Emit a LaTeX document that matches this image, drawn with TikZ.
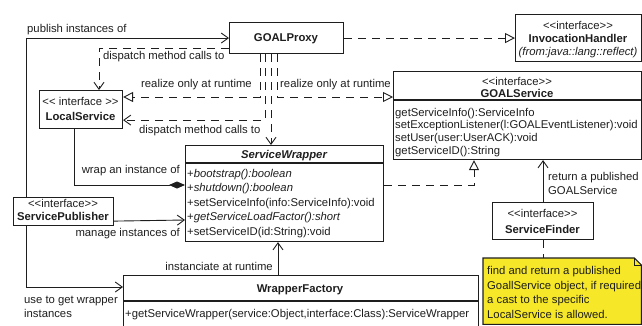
\documentclass[tikz,border=0pt]{standalone}
\usepackage{fontspec}
\setmainfont{Liberation Sans}[Ligatures=TeXOff]
\usetikzlibrary{arrows.meta,calc}
\definecolor{noteyellow}{RGB}{246,232,40}
\definecolor{ink}{RGB}{30,30,30}
\begin{document}
\begin{tikzpicture}[x=1pt,y=-1pt,
  box/.style={draw=ink, line width=1.1pt, inner sep=0pt, anchor=north west},
  txt/.style={inner sep=0pt, text=ink, font=\fontsize{11.3}{13}\selectfont},
  btxt/.style={txt, font=\fontsize{11.3}{13}\selectfont\bfseries},
  conn/.style={draw=ink, line width=0.9pt},
  dsh/.style={conn, dash pattern=on 8pt off 6pt},
  openarr/.style={-{Straight Barb[length=7pt,width=10pt,line width=0.9pt]}},
  realize/.style={-{Triangle[open,length=10pt,width=10pt,line width=0.9pt]}},
  compo/.style={-{Diamond[length=16pt,width=7pt]}},
]
\useasboundingbox (0,0) rectangle (642,325);
\clip (0,0) rectangle (642,325);

% ---------- boxes ----------
\node[box, minimum width=114pt, minimum height=31pt] (gp) at (229,22) {};
\node[box, minimum width=126pt, minimum height=47pt] (ih) at (515,14) {};
\node[box, minimum width=83pt, minimum height=38pt] (ls) at (39,90) {};
\node[box, minimum width=248pt, minimum height=88pt] (gs) at (393,71) {};
\node[box, minimum width=198pt, minimum height=96pt] (sw) at (185,145) {};
\node[box, minimum width=100pt, minimum height=28pt] (sp) at (13,197) {};
\node[box, minimum width=101pt, minimum height=37pt] (sf) at (492,202) {};
\node[box, minimum width=355pt, minimum height=60pt] (wf) at (123,275) {};
\node[inner sep=0pt, minimum width=158pt, minimum height=66pt, anchor=north west] (note) at (483,258) {};

% dividers
\draw[draw=ink, line width=1.1pt] ($(gs.north west)+(0,29)$) -- ($(gs.north east)+(0,29)$);
\draw[draw=ink, line width=1.1pt] ($(sw.north west)+(0,18)$) -- ($(sw.north east)+(0,18)$);
\draw[draw=ink, line width=1.1pt] ($(wf.north west)+(0,26)$) -- ($(wf.north east)+(0,26)$);

% note shape
\filldraw[fill=noteyellow, draw=ink, line width=1.1pt]
  (note.north west) -- ($(note.north east)+(-7,0)$) -- ($(note.north east)+(0,7)$)
  -- (note.south east) -- (note.south west) -- cycle;
\draw[draw=ink, line width=0.8pt] ($(note.north east)+(-7,0)$) -- ($(note.north east)+(-7,7)$) -- ($(note.north east)+(0,7)$);

% ---------- box texts ----------
\node[btxt, anchor=base] (tgp) at (286,41.5) {GOALProxy};

\node[txt, anchor=base] (tih1) at (578,29) {<<interface>>};
\node[btxt, anchor=base] (tih2) at (578,42) {InvocationHandler};
\node[txt, anchor=base, font=\fontsize{11.3}{13}\selectfont\itshape] (tih3) at (578,55.5) {(from:java::lang::reflect)};

\node[txt, anchor=base] (tls1) at (80.5,105) {<< interface >>};
\node[btxt, anchor=base] (tls2) at (80.5,120) {LocalService};

\node[txt, anchor=base] (tgs1) at (517,85) {<<interface>>};
\node[btxt, anchor=base] (tgs2) at (517,97.5) {GOALService};
\node[txt, anchor=base west] (gsm1) at (395,116) {getServiceInfo():ServiceInfo};
\node[txt, anchor=base west] (gsm2) at (395,128.5) {setExceptionListener(l:GOALEventListener):void};
\node[txt, anchor=base west] (gsm3) at (395,141) {setUser(user:UserACK):void};
\node[txt, anchor=base west] (gsm4) at (395,154) {getServiceID():String};

\node[btxt, anchor=base, font=\fontsize{11.3}{13}\selectfont\bfseries\itshape] (tsw) at (284,158) {ServiceWrapper};
\node[txt, anchor=base west] (swm1) at (187,177) {+\textit{bootstrap():boolean}};
\node[txt, anchor=base west] (swm2) at (187,191.5) {+\textit{shutdown():boolean}};
\node[txt, anchor=base west] (swm3) at (187,206) {+setServiceInfo(info:ServiceInfo):void};
\node[txt, anchor=base west] (swm4) at (187,220.5) {+\textit{getServiceLoadFactor():short}};
\node[txt, anchor=base west] (swm5) at (187,235) {+setServiceID(id:String):void};

\node[txt, anchor=base] (tsp1) at (63,207) {<<interface>>};
\node[btxt, anchor=base] (tsp2) at (63,220) {ServicePublisher};

\node[txt, anchor=base] (tsf1) at (542.5,217) {<<interface>>};
\node[btxt, anchor=base] (tsf2) at (542.5,233) {ServiceFinder};

\node[btxt, anchor=base] (twf) at (300,292) {WrapperFactory};
\node[txt, anchor=base west] (wfm1) at (125,317) {+getServiceWrapper(service:Object,interface:Class):ServiceWrapper};

\node[txt, anchor=base west] (n1) at (487,274) {find and return a published};
\node[txt, anchor=base west] (n2) at (487,289) {GoallService object, if required};
\node[txt, anchor=base west] (n3) at (487,303) {a cast to the specific};
\node[txt, anchor=base west] (n4) at (487,318) {LocalService is allowed.};

% ---------- connectors ----------
\coordinate (pubx) at (26,0);
\draw[conn, openarr] (pubx |- sp.north) |- (gp.west);
\draw[dsh, realize] (gp.east) -- (ih.west);
\draw[dsh, openarr] ($(gp.south west)+(0,-6)$) -| ($(ls.north west)+(60,0)$);
\draw[dsh, realize] ($(gp.south west)+(31,0)$) |- ($(ls.north east)+(0,7)$);
\draw[dsh, openarr] ($(gp.south west)+(36,0)$) |- ($(ls.south east)+(0,-9)$);
\draw[dsh, openarr] ($(gp.south west)+(42,0)$) -- ($(sw.north west)+(86,0)$);
\draw[dsh, realize] ($(gp.south west)+(48,0)$) |- ($(gs.north west)+(0,26)$);
\draw[conn, compo] ($(ls.south west)+(35,0)$) |- ($(sw.north west)+(0,40)$);
\draw[conn, openarr] ($(sp.south east)+(0,-5)$) -- ($(sw.north west)+(0,75)$);
\draw[conn, openarr] (pubx |- sp.south) |- ($(wf.north west)+(0,12)$);
\draw[conn, openarr] ($(wf.north west)+(155,0)$) -- ($(sw.south west)+(93,0)$);
\draw[dsh, realize] ($(sw.north east)+(0,40)$) -| ($(gs.south west)+(81,0)$);
\draw[conn, openarr] (sf.north) -- (sf.north |- gs.south);
\draw[dsh] (sf.south) -- (sf.south |- note.north);

% ---------- connector labels ----------
\node[txt, anchor=base west] (l1) at (27,32) {publish instances of};
\node[txt, anchor=base west] (l2) at (103,59) {dispatch method calls to};
\node[txt, anchor=base west] (l3) at (141,87) {realize only at runtime};
\node[txt, anchor=base west] (l4) at (280,87) {realize only at runtime};
\node[txt, anchor=base west] (l5) at (139,133) {dispatch method calls to};
\node[txt, anchor=base east] (l6) at (180,173) {wrap an instance of};
\node[txt, anchor=base east] (l7) at (180,236) {manage instances of};
\node[txt, anchor=base east] (l8) at (273,270) {instanciate at runtime};
\node[txt, anchor=base west] (l9a) at (24,303) {use to get wrapper};
\node[txt, anchor=base west] (l9b) at (24,317) {instances};
\node[txt, anchor=base west] (l10a) at (548,180) {return a published};
\node[txt, anchor=base west] (l10b) at (548,194) {GOALService};
\end{tikzpicture}
\end{document}
